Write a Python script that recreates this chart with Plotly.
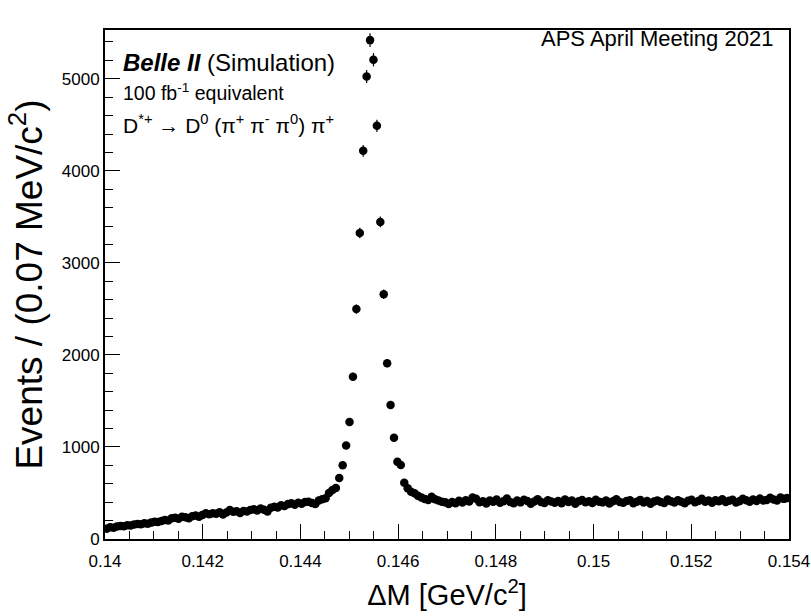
import numpy as np
import plotly.graph_objects as go

# Binning of the histogram (GeV/c^2)
BIN_LO = 0.140
BIN_WIDTH = 0.00007
N_BINS = 200

# Events per bin
counts_left = [
    112, 128, 121, 135, 141, 138, 150, 146, 158, 163,
    160, 170, 166, 178, 188, 184, 195, 207, 201, 225,
    232, 219, 241, 236, 225, 248, 256, 243, 262, 279,
    268, 281, 274, 290, 266, 287, 315, 296, 301, 283,
    305, 298, 314, 323, 309, 331, 318, 300, 340, 351,
    342, 366, 358, 379, 388, 372, 395, 384, 401, 405,
    392, 380, 418, 431, 442, 500, 533,
]
counts_peak = [
    555, 663, 801, 1016, 1270, 1764, 2498, 3325, 4217, 5024,
    5420, 5207, 4489, 3445, 2658, 1910, 1457, 1101, 840, 804,
]
counts_right = [
    612, 551, 514, 497, 470, 452, 435, 424, 460, 431, 418, 405, 398, 380,
    402, 389, 415, 396, 421, 408, 452, 437, 399, 411,
    386, 419, 405, 428, 394, 410, 441, 403, 389, 417,
    398, 426, 412, 384, 407, 433, 401, 392, 420, 408,
    395, 414, 388, 429, 403, 417, 382, 410, 424, 399,
    411, 390, 427, 405, 398, 418, 386, 409, 432, 401,
    393, 412, 420, 388, 406, 425, 397, 414, 383, 408,
    419, 402, 391, 430, 410, 396, 422, 405, 388, 415,
    427, 399, 412, 438, 404, 418, 393, 421, 409, 432,
    401, 415, 426, 397, 411, 436, 420, 404, 429, 413,
    441, 418, 425, 447, 430, 419, 452, 436, 445,
]
counts = np.array(counts_left + counts_peak + counts_right, dtype=float)
assert len(counts) == N_BINS

x_centers = BIN_LO + (np.arange(N_BINS) + 0.5) * BIN_WIDTH
errors = np.sqrt(counts)

x_ticks = [0.14, 0.142, 0.144, 0.146, 0.148, 0.15, 0.152, 0.154]
x_ticklabels = ["0.14", "0.142", "0.144", "0.146", "0.148", "0.15", "0.152", "0.154"]
y_ticks = [0, 1000, 2000, 3000, 4000, 5000]

FONT = "Liberation Sans, Arial, Helvetica, sans-serif"

fig = go.Figure()
fig.add_trace(go.Scatter(
    x=x_centers, y=counts,
    mode="markers",
    marker=dict(color="black", size=8.5, symbol="circle"),
    error_y=dict(type="data", array=errors, visible=True, color="black",
                 thickness=1.2, width=0),
    showlegend=False,
    hoverinfo="x+y",
))

fig.update_layout(
    width=811, height=616,
    margin=dict(l=105, r=22, t=30, b=77),
    paper_bgcolor="white", plot_bgcolor="white",
    font=dict(family=FONT, color="black", size=17),
    xaxis=dict(
        range=[0.140, 0.154],
        tickvals=x_ticks, ticktext=x_ticklabels,
        ticks="inside", ticklen=15, tickwidth=1, tickcolor="black",
        minor=dict(dtick=0.0005, tick0=0.14, ticks="inside", ticklen=8,
                   tickwidth=1, tickcolor="black"),
        showline=True, linecolor="black", linewidth=2, mirror=True,
        showgrid=False, zeroline=False,
        tickfont=dict(size=17),
        ticklabelstandoff=6,
        automargin=False,
        title=dict(text="ΔM [GeV/c<sup>2</sup>]", font=dict(size=29), standoff=14),
    ),
    yaxis=dict(
        range=[0, 5530],
        tickvals=y_ticks,
        ticks="inside", ticklen=15, tickwidth=1, tickcolor="black",
        minor=dict(dtick=200, tick0=0, ticks="inside", ticklen=8,
                   tickwidth=1, tickcolor="black"),
        showline=True, linecolor="black", linewidth=2, mirror=True,
        showgrid=False, zeroline=False,
        tickfont=dict(size=17),
        automargin=False,
        title=dict(text="Events / (0.07 MeV/c<sup>2</sup>)", font=dict(size=37), standoff=8),
    ),
)

annots = [
    dict(x=0.98, y=0.984, xanchor="right", yanchor="middle",
         text="APS April Meeting 2021", font=dict(size=22)),
    dict(x=0.023, y=0.937, xanchor="left", yanchor="middle",
         text="<b><i>Belle II</i></b> (Simulation)", font=dict(size=24)),
    dict(x=0.023, y=0.878, xanchor="left", yanchor="middle",
         text="100 fb<sup>-1</sup> equivalent", font=dict(size=19.5)),
    dict(x=0.023, y=0.815, xanchor="left", yanchor="middle",
         text="D<sup>*+</sup> → D<sup>0</sup> (π<sup>+</sup> π<sup>-</sup> π<sup>0</sup>) π<sup>+</sup>",
         font=dict(size=21)),
]
for a in annots:
    fig.add_annotation(xref="paper", yref="paper", showarrow=False, **a)

fig.write_html("out.html")
